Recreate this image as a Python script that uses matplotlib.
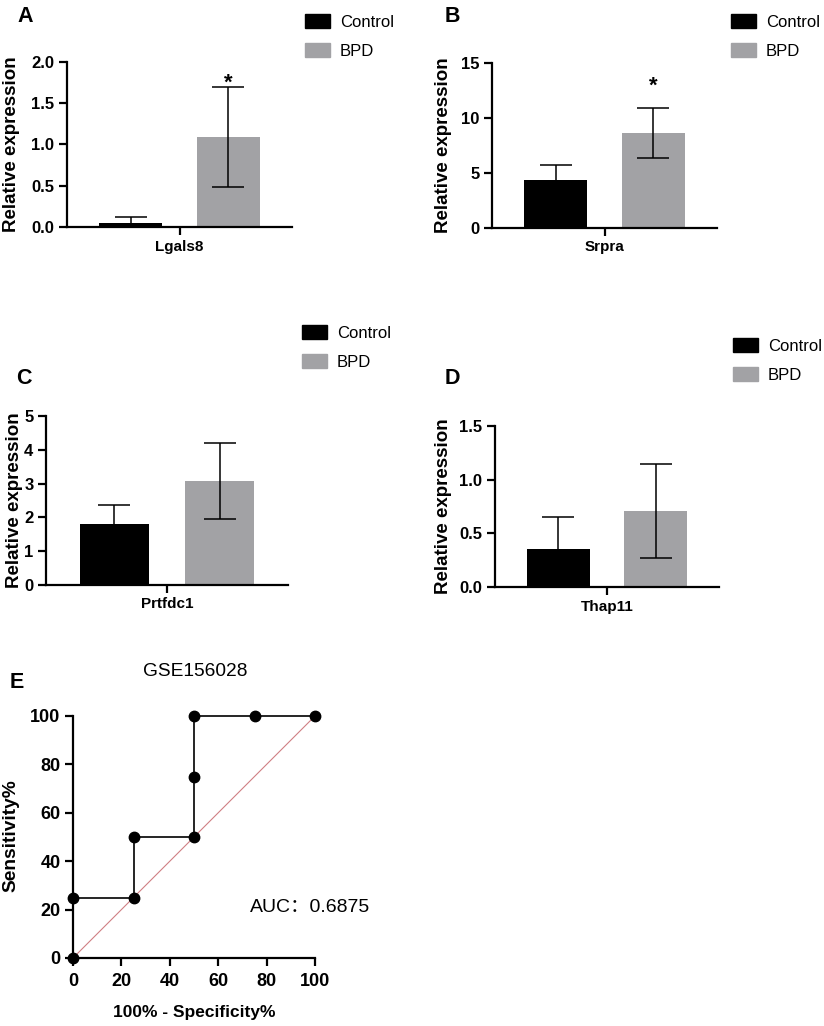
import numpy as np
import matplotlib
matplotlib.use('Agg')
import matplotlib.pyplot as plt
from matplotlib.patches import Patch

plt.rcParams['font.family'] = ['Liberation Sans', 'Noto Sans CJK SC', 'DejaVu Sans']

# bar panels: gene, control mean/sd, BPD mean/sd, y max, y ticks
genes = ['Lgals8', 'Srpra', 'Prtfdc1', 'Thap11']
ctrl_mean = [0.05, 4.35, 1.81, 0.35]
ctrl_err = [0.07, 1.40, 0.56, 0.30]
bpd_mean = [1.09, 8.63, 3.08, 0.71]
bpd_err = [0.61, 2.30, 1.12, 0.44]
y_max = [2.0, 15, 5, 1.5]
y_ticks = [[0.0, 0.5, 1.0, 1.5, 2.0], [0, 5, 10, 15], [0, 1, 2, 3, 4, 5], [0.0, 0.5, 1.0, 1.5]]
y_fmt = ['%.1f', '%d', '%d', '%.1f']
star_y = [1.74, 12.9, None, None]
letters = ['A', 'B', 'C', 'D']

# ROC panel
roc_x = [0, 0, 25, 25, 50, 50, 50, 75, 100]
roc_y = [0, 25, 25, 50, 50, 75, 100, 100, 100]
auc = 0.6875

W, H = 824, 1026
def box(l, r, t, b):
    return [l / W, 1 - b / H, (r - l) / W, (b - t) / H]
def pt(x, y):
    return (x / W, 1 - y / H)

fig = plt.figure(figsize=(W / 100, H / 100), dpi=100)

# pixel layout: axes boxes, ylabel centres, letter spots, legend anchors
ax_boxes = [(67, 292, 62, 227), (492, 717, 63, 228), (46, 288, 416, 585), (495, 719, 426, 587)]
ylab_pos = [(12, 144), (444, 145), (15, 500), (443, 506)]
letter_pos = [(25, 17), (452, 17), (24, 378), (452, 378)]
legend_pos = [(305, 14), (731, 14), (302, 325), (733, 338)]

gray = '#a2a2a5'

for i in range(4):
    ax = fig.add_axes(box(*ax_boxes[i]))
    ax.errorbar([-1], [ctrl_mean[i]], yerr=[ctrl_err[i]], fmt='none',
                ecolor='black', elinewidth=1.1, capsize=11.5, capthick=1.1, zorder=1)
    ax.bar(-1, ctrl_mean[i], width=1.3, color='black', zorder=2)
    ax.bar(1, bpd_mean[i], width=1.3, color=gray, zorder=2)
    ax.errorbar([1], [bpd_mean[i]], yerr=[bpd_err[i]], fmt='none',
                ecolor='black', elinewidth=1.1, capsize=11.5, capthick=1.1, zorder=3)
    if star_y[i] is not None:
        ax.text(1, star_y[i], '*', ha='center', va='center', fontsize=16, fontweight='bold')
    ax.set_xlim(-2.3, 2.3)
    ax.set_ylim(0, y_max[i])
    ax.set_yticks(y_ticks[i])
    ax.set_yticklabels([y_fmt[i] % v for v in y_ticks[i]])
    ax.set_xticks([0])
    ax.set_xticklabels([genes[i]], fontweight='bold', fontsize=11)
    for s in ['top', 'right']:
        ax.spines[s].set_visible(False)
    for s in ['left', 'bottom']:
        ax.spines[s].set_linewidth(1.6)
    ax.tick_params(width=1.6, length=5.5, direction='out', labelsize=12)
    ax.tick_params(axis='x', labelsize=11)
    for lab in ax.get_yticklabels():
        lab.set_fontweight('bold')
    fig.text(*pt(*ylab_pos[i]), 'Relative expression', rotation=90, ha='center',
             va='center', fontsize=13.5, fontweight='bold')
    fig.text(*pt(*letter_pos[i]), letters[i], ha='center', va='center',
             fontsize=15.5, fontweight='bold')
    handles = [Patch(color='black'), Patch(color=gray)]
    fig.legend(handles, ['Control', 'BPD'], loc='upper left',
               bbox_to_anchor=pt(*legend_pos[i]), frameon=False, fontsize=12,
               borderpad=0, borderaxespad=0, handlelength=1.5, handleheight=0.95,
               handletextpad=0.6, labelspacing=0.78)

# ROC
ax = fig.add_axes(box(73, 315, 716, 958))
ax.plot([0, 100], [0, 100], color='#cf7f84', linewidth=0.8, zorder=1)
ax.plot(roc_x, roc_y, color='black', linewidth=1.2, marker='o', markersize=7.5,
        clip_on=False, zorder=3)
ax.set_xlim(0, 100)
ax.set_ylim(0, 100)
ax.set_xticks(np.arange(0, 101, 20))
ax.set_yticks(np.arange(0, 101, 20))
for s in ['top', 'right']:
    ax.spines[s].set_visible(False)
for s in ['left', 'bottom']:
    ax.spines[s].set_linewidth(1.6)
ax.tick_params(width=1.6, length=5.5, direction='out', labelsize=13)
ax.tick_params(axis='x', pad=5)
for lab in ax.get_xticklabels() + ax.get_yticklabels():
    lab.set_fontweight('bold')
ax.set_xlabel('100% - Specificity%', fontsize=12.5, fontweight='bold', labelpad=11)
ax.text(0.73, 0.21, 'AUC：%.4f' % auc, transform=ax.transAxes, fontsize=14,
        ha='left', va='center')
fig.text(*pt(11, 836), 'Sensitivity%', rotation=90, ha='center', va='center',
         fontsize=13.8, fontweight='bold')
fig.text(*pt(195, 672), 'GSE156028', ha='center', va='center', fontsize=13.8)
fig.text(*pt(17, 683), 'E', ha='center', va='center', fontsize=15.5, fontweight='bold')

fig.savefig('out.png', dpi=100)
